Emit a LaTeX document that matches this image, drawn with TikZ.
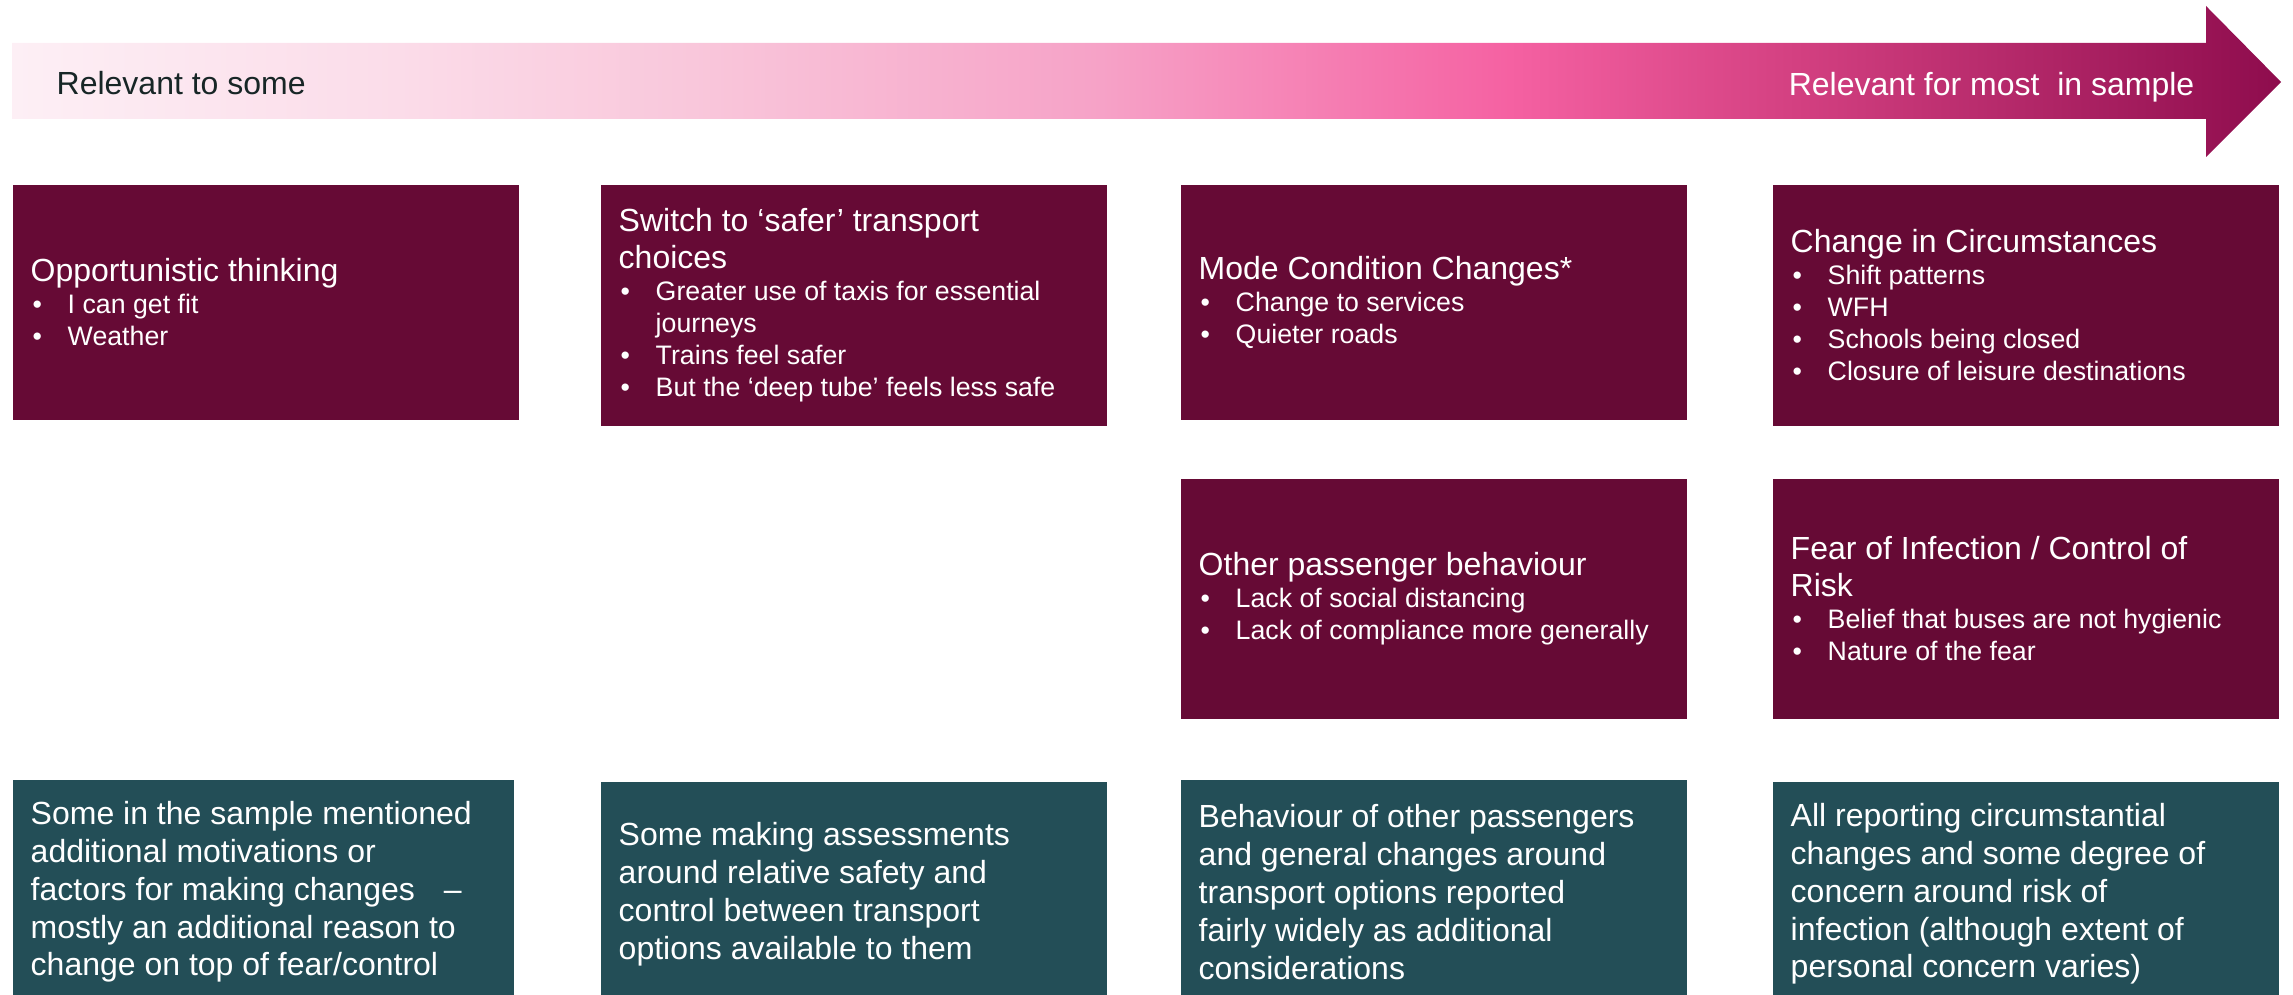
\documentclass[tikz,border=0pt]{standalone}
\usepackage{fontspec}
\setmainfont{Liberation Sans}
\usetikzlibrary{shadings}

\definecolor{wine}{RGB}{102, 10, 53}
\definecolor{slateteal}{RGB}{35, 78, 87}
\definecolor{inkdark}{RGB}{23, 38, 38}
\definecolor{pinkA}{RGB}{253, 239, 245}
\definecolor{pinkB}{RGB}{251, 220, 233}
\definecolor{pinkC}{RGB}{249, 199, 219}
\definecolor{pinkD}{RGB}{246, 162, 199}
\definecolor{pinkE}{RGB}{245, 97, 162}
\definecolor{pinkF}{RGB}{210, 63, 128}
\definecolor{pinkG}{RGB}{142, 12, 77}

% light to dark along the arrow
\pgfdeclarehorizontalshading{relevance}{100bp}{color(0bp)=(pinkA); color(25bp)=(pinkA);
  color(33.5bp)=(pinkB); color(40bp)=(pinkC); color(49bp)=(pinkD); color(58bp)=(pinkE);
  color(64.5bp)=(pinkF); color(75bp)=(pinkG); color(100bp)=(pinkG)}

\newcommand{\boxhead}[1]{{\fontsize{9.1pt}{10.4pt}\selectfont #1\par}}
\newcommand{\boxitem}[1]{{\fontsize{7.6pt}{9.1pt}\selectfont\hangindent=0.37cm\hangafter=1\noindent\hspace*{0.02cm}\makebox[0.35cm][l]{\textbullet}#1\par}}

\begin{document}
\begin{tikzpicture}[
  x=0.01cm, y=-0.01cm,
  catbox/.style={anchor=north west, fill=wine, text=white, align=flush left, minimum width=5.06cm, text width=4.70cm, inner xsep=0.18cm, inner ysep=0.1cm},
  notebox/.style={anchor=north west, fill=slateteal, text=white, align=flush left, minimum width=5.06cm, text width=4.70cm, minimum height=2.24cm, inner xsep=0.18cm, inner ysep=0.1cm, font=\fontsize{9.1pt}{10.8pt}\selectfont},
  arrowlabel/.style={inner sep=0pt, font=\fontsize{9.1pt}{11pt}\selectfont}
]
  \useasboundingbox (0,0) rectangle (2293,995);

  \shade[shading=relevance] (12,43) -- (2206,43) -- (2206,6) -- (2281,82) -- (2206,157) -- (2206,119) -- (12,119) -- cycle;
  \node[arrowlabel, anchor=base west, text=inkdark] (relsome) at (56,95) {Relevant to some};
  \node[arrowlabel, anchor=base east, text=white] (relmost) at (2195,96) {Relevant for most\ \ in sample};

  \node[catbox, minimum height=2.35cm] (oppthink) at (12,184) {
    \boxhead{Opportunistic thinking}
    \boxitem{I can get fit}
    \boxitem{Weather}
  };
  \node[catbox, minimum height=2.41cm] (safer) at (600,184) {
    \boxhead{Switch to ‘safer’ transport\\choices}
    \boxitem{Greater use of taxis for essential journeys}
    \boxitem{Trains feel safer}
    \boxitem{But the ‘deep tube’ feels less safe}
  };
  \node[catbox, minimum height=2.35cm] (modecond) at (1180,184) {
    \boxhead{Mode Condition Changes*}
    \boxitem{Change to services}
    \boxitem{Quieter roads}
  };
  \node[catbox, minimum height=2.41cm] (circum) at (1772,184) {
    \boxhead{Change in Circumstances}
    \boxitem{Shift patterns}
    \boxitem{WFH}
    \boxitem{Schools being closed}
    \boxitem{Closure of leisure destinations}
  };
  \node[catbox, minimum height=2.40cm] (passbeh) at (1180,478) {
    \boxhead{Other passenger behaviour}
    \boxitem{Lack of social distancing}
    \boxitem{Lack of compliance more generally}
  };
  \node[catbox, minimum height=2.40cm] (fearrisk) at (1772,478) {
    \boxhead{Fear of Infection / Control of\\Risk}
    \boxitem{Belief that buses are not hygienic}
    \boxitem{Nature of the fear}
  };

  \node[notebox, minimum width=5.01cm, text width=4.65cm] (noteopp) at (12,779) {Some in the sample mentioned\\additional motivations or\\factors for making changes\hspace{0.2cm} –\\mostly an additional reason to\\change on top of fear/control};
  \node[notebox] (notesafer) at (600,781) {Some making assessments\\around relative safety and\\control between transport\\options available to them};
  \node[notebox] (notemode) at (1180,779) {Behaviour of other passengers\\and general changes around\\transport options reported\\fairly widely as additional\\considerations};
  \node[notebox] (notecircum) at (1772,781) {All reporting circumstantial\\changes and some degree of\\concern around risk of\\infection (although extent of\\personal concern varies)};
\end{tikzpicture}
\end{document}
